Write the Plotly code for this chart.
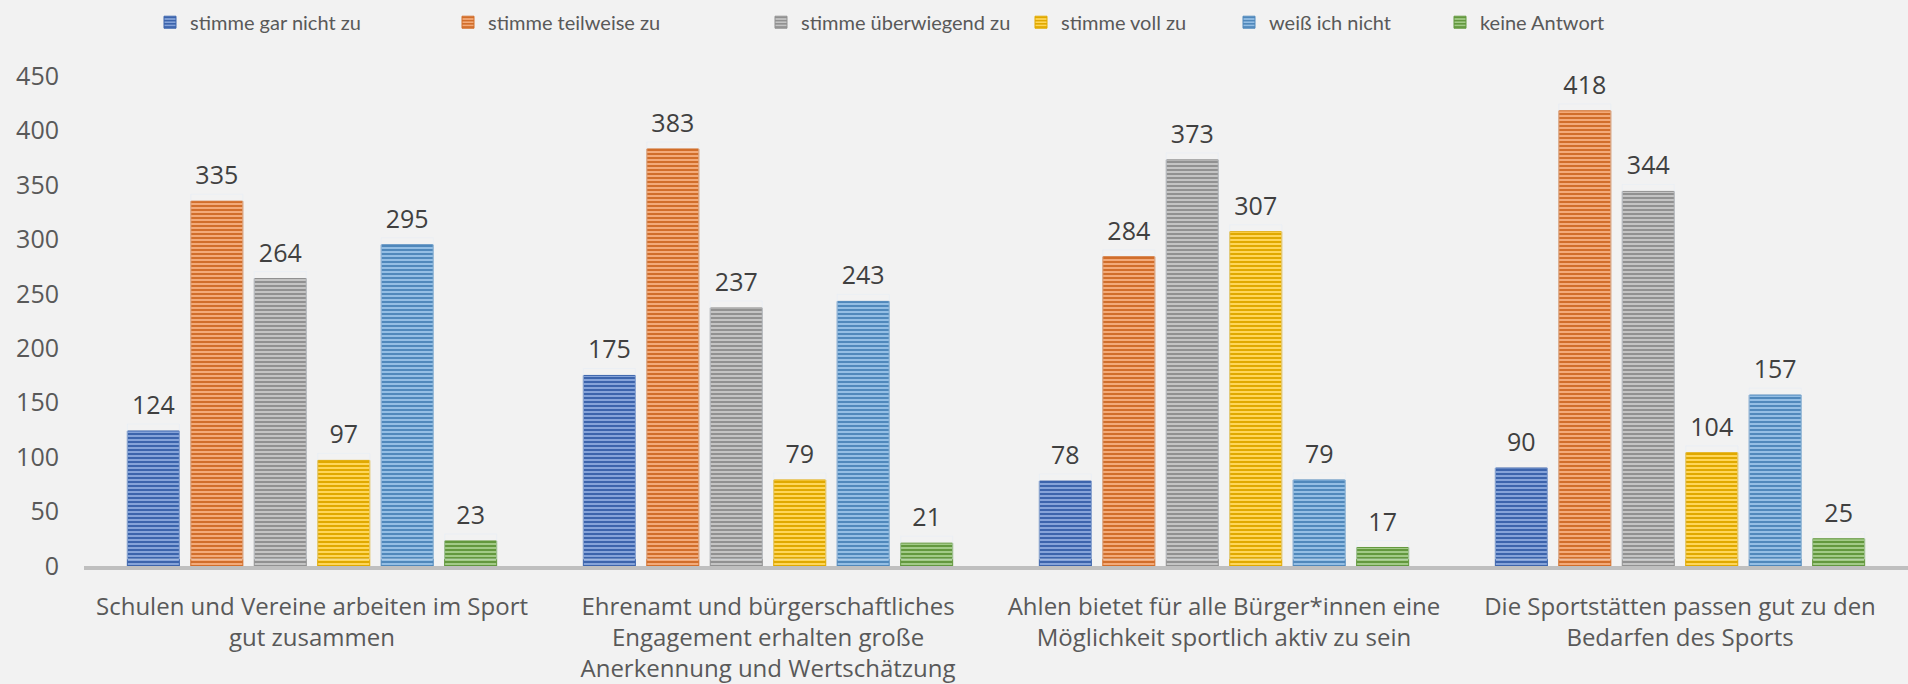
import plotly.graph_objects as go

categories = [
    "Schulen und Vereine arbeiten im Sport<br>gut zusammen",
    "Ehrenamt und bürgerschaftliches<br>Engagement erhalten große<br>Anerkennung und Wertschätzung",
    "Ahlen bietet für alle Bürger*innen eine<br>Möglichkeit sportlich aktiv zu sein",
    "Die Sportstätten passen gut zu den<br>Bedarfen des Sports",
]
series_names = [
    "stimme gar nicht zu",
    "stimme teilweise zu",
    "stimme überwiegend zu",
    "stimme voll zu",
    "weiß ich nicht",
    "keine Antwort",
]
gar_nicht = [124, 175, 78, 90]
teilweise = [335, 383, 284, 418]
ueberwiegend = [264, 237, 373, 344]
voll = [97, 79, 307, 104]
weiss_nicht = [295, 243, 79, 157]
keine_antwort = [23, 21, 17, 25]
series_values = [gar_nicht, teilweise, ueberwiegend, voll, weiss_nicht, keine_antwort]

colors = ["#4472C4", "#ED7D31", "#A5A5A5", "#FFC000", "#5B9BD5", "#70AD47"]
legend_x_px = [150, 448, 761, 1021, 1229, 1440]

FONT = "Open Sans"
TXT = "#595959"
L, R, T, B = 84, 0, 76, 116
W, H = 1908, 684
YMAX = 450
label_shift_px = 7


def mix(hexc, other, t):
    a = [int(hexc[i:i + 2], 16) for i in (1, 3, 5)]
    b = [int(other[i:i + 2], 16) for i in (1, 3, 5)]
    c = [round(a[k] * (1 - t) + b[k] * t) for k in range(3)]
    return "#%02x%02x%02x" % tuple(c)


fig = go.Figure()
for i, (name, vals, col) in enumerate(zip(series_names, series_values, colors)):
    light = mix(col, "#ffffff", 0.35)
    dark = mix(col, "#000000", 0.12)
    fig.add_trace(go.Bar(
        x=categories, y=vals, name=name,
        legend="legend" if i == 0 else f"legend{i + 1}",
        marker=dict(
            color=col,
            line=dict(color=dark, width=1),
            pattern=dict(shape="-", size=4, solidity=0.5, fgcolor=dark, bgcolor=light, fillmode="replace"),
        ),
        hoverinfo="skip",
    ))

# data labels (transparent bars on a slightly shifted twin axis)
plot_h = H - T - B
shift = label_shift_px * YMAX / plot_h
for vals in series_values:
    fig.add_trace(go.Bar(
        x=categories, y=vals, yaxis="y2", showlegend=False,
        marker=dict(color="rgba(0,0,0,0)"),
        text=[str(v) for v in vals], textposition="outside",
        textfont=dict(family=FONT, size=25, color="#404040"),
        cliponaxis=False, hoverinfo="skip",
    ))

layout_legends = {}
for i, px in enumerate(legend_x_px):
    key = "legend" if i == 0 else f"legend{i + 1}"
    layout_legends[key] = dict(
        x=(px - L) / (W - L - R), xanchor="left",
        y=1 + (T - 22) / plot_h, yanchor="middle",
        orientation="h", bgcolor="rgba(0,0,0,0)",
        font=dict(family="Lato", size=20, color=TXT),
    )

fig.update_layout(
    width=W, height=H,
    margin=dict(l=L, r=R, t=T, b=B),
    paper_bgcolor="#f2f2f2", plot_bgcolor="#f2f2f2",
    barmode="group", bargap=0.165, bargroupgap=0.18,
    font=dict(family=FONT, color=TXT),
    xaxis=dict(
        showline=True, linecolor="#bfbfbf", linewidth=3.5,
        showgrid=False, zeroline=False,
        tickfont=dict(family=FONT, size=24, color=TXT),
        ticklabelstandoff=16,
    ),
    yaxis=dict(
        range=[0, YMAX], dtick=50, showgrid=False, zeroline=False,
        showline=False, tickfont=dict(family=FONT, size=25, color=TXT),
        ticklabelstandoff=24,
    ),
    yaxis2=dict(
        overlaying="y", range=[-shift, YMAX - shift], visible=False,
    ),
    **layout_legends,
)

fig.write_html("out.html", config={"displayModeBar": False},
               post_script="document.body.style.margin='0';")
